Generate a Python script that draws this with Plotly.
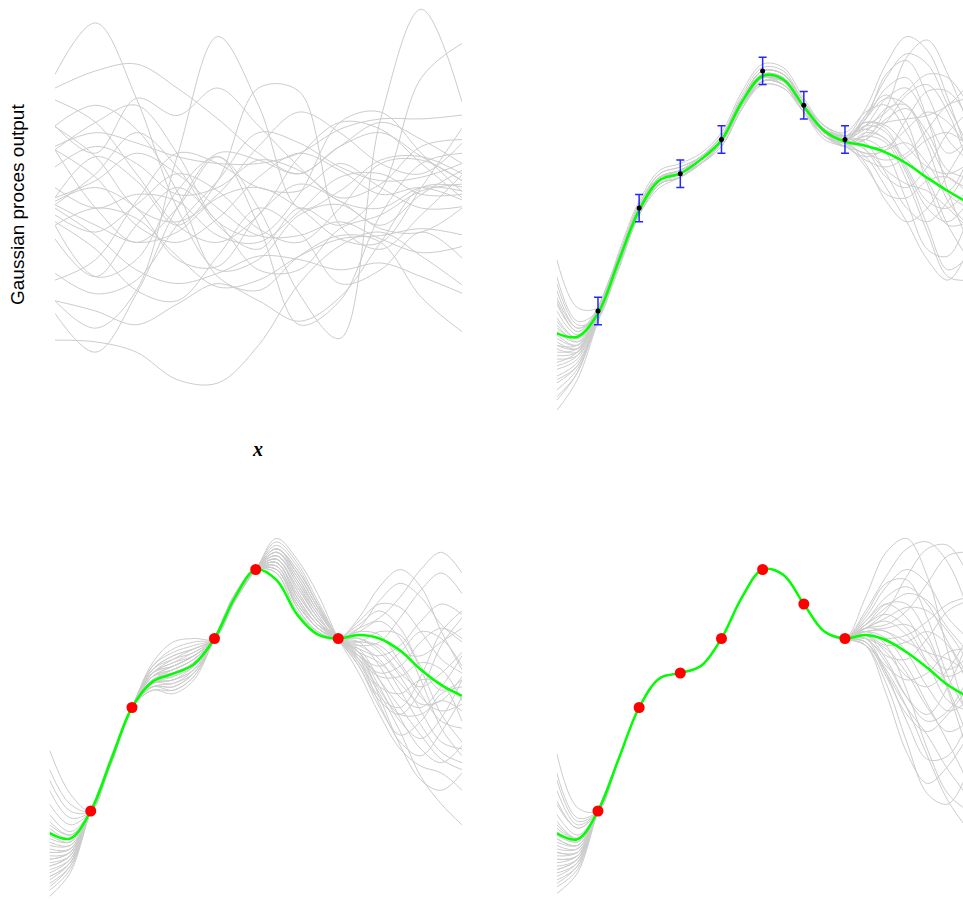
import plotly.graph_objects as go

# ---------------- data ----------------
prior_x = [0, 1, 2, 3, 4, 5, 6, 7, 8, 9, 10]
prior_samples = [
    [6.9, 8.4, 6.2, 3.0, 1.2, 1.5, 2.8, 3.1, 2.4, 2.3, 3.0],
    [-0.85, -0.9, -1.2, -2.0, -2.1, -1.0, 0.8, 1.9, 2.3, 1.6, 0.76],
    [0.3, -0.5, 0.6, 4.5, 8.0, 6.0, 3.0, 3.5, 4.4, 4.5, 4.0],
    [3.3, 4.5, 3.8, 2.5, 3.8, 6.5, 6.4, 2.5, 1.8, 2.8, 3.97],
    [2.5, 1.0, 1.5, 3.5, 4.5, 3.0, 0.5, -0.8, 5.6, 8.8, 6.1],
    [4.7, 3.0, 2.0, 3.0, 4.5, 2.5, -0.4, 0.3, 2.8, 4.3, 4.6],
    [3.1, 4.0, 5.2, 4.2, 2.5, 1.8, 3.0, 2.5, 3.5, 6.8, 7.8],
    [6.5, 7.0, 7.2, 6.5, 5.6, 4.6, 4.0, 4.8, 5.2, 4.5, 3.8],
    [5.4, 4.6, 6.2, 5.7, 6.5, 5.4, 4.2, 3.2, 3.0, 3.6, 3.5],
    [-0.07, -1.2, 0.5, 3.0, 4.6, 4.4, 4.0, 4.8, 5.5, 5.0, 4.3],
    [6.15, 5.5, 4.0, 2.5, 2.0, 2.8, 4.5, 5.5, 5.3, 4.3, 3.3],
    [5.4, 6.0, 5.3, 3.5, 1.0, 0.6, 1.6, 2.2, 2.0, 0.4, -0.6],
    [4.8, 5.2, 4.9, 4.5, 4.3, 4.3, 4.6, 5.3, 5.6, 5.6, 5.71],
    [3.2, 3.6, 3.0, 1.5, 1.3, 2.8, 3.7, 3.2, 2.5, 3.4, 4.1],
    [3.0, 2.2, 1.2, 0.8, 1.1, 1.6, 1.5, 1.2, 1.4, 1.0, 0.52],
    [2.1, 1.0, 2.5, 3.6, 2.6, 1.2, 1.2, 2.4, 2.8, 3.5, 3.7],
    [0.9, 1.5, 3.2, 4.6, 4.3, 3.6, 3.5, 4.3, 3.6, 3.0, 3.04],
    [1.1, 0.5, 0.9, 2.5, 3.8, 5.2, 4.9, 4.2, 3.8, 3.9, 4.3],
    [2.5, 3.0, 2.7, 1.6, 0.7, 0.9, 1.6, 2.1, 2.2, 2.4, 2.22],
    [4.7, 3.9, 2.5, 2.0, 2.7, 3.9, 4.6, 4.1, 3.4, 3.6, 3.24],
    [3.3, 3.8, 4.6, 4.0, 3.0, 2.2, 2.2, 2.6, 2.1, 1.7, 1.88],
    [3.1, 2.5, 2.0, 2.3, 3.3, 3.6, 3.0, 2.1, 2.0, 3.6, 5.33],
    [2.6, 1.8, 0.6, 0.3, 1.6, 3.0, 2.3, 0.8, 1.2, 2.3, 1.54],
    [0.3, 0.0, -0.4, 0.2, 0.8, 0.3, -0.3, 0.4, 2.0, 3.6, 3.62],
    [4.7, 5.5, 6.0, 4.6, 2.6, 2.2, 3.4, 5.5, 5.8, 4.6, 3.48],
    [5.37, 4.5, 3.0, 2.6, 3.4, 4.8, 5.8, 5.2, 4.3, 4.0, 4.89],
    [4.2, 4.8, 4.3, 3.4, 3.6, 4.4, 4.1, 3.3, 3.7, 4.8, 5.0],
    [2.8, 2.3, 3.1, 4.0, 3.5, 2.4, 2.0, 3.0, 4.3, 4.4, 3.8],
    [3.6, 3.0, 3.4, 3.2, 2.2, 2.0, 2.9, 3.9, 4.0, 3.4, 3.4],
]

post_x = [0, 0.5, 1, 1.5, 2, 2.5, 3, 3.5, 4, 4.5, 5, 5.5, 6, 6.5, 7, 7.5, 8, 8.5, 9, 9.5, 10]

obs_x = [1, 2, 3, 4, 5, 6, 7]
obs_y_noisy = [0.0, 3.0, 4.0, 5.0, 7.0, 6.0, 5.0]
obs_err = [0.4, 0.4, 0.4, 0.4, 0.4, 0.4, 0.4]

obs5_x = [1, 2, 4, 5, 7]
obs5_y = [0.0, 3.0, 5.0, 7.0, 5.0]

obs7_x = [1, 2, 3, 4, 5, 6, 7]
obs7_y = [0.0, 3.0, 4.0, 5.0, 7.0, 6.0, 5.0]

mean_noisy = [-0.65, -0.75, -0.07, 1.45, 2.94, 3.82, 4.01, 4.42, 4.98, 6.1, 6.85,
              6.75, 5.96, 5.25, 4.94, 4.82, 4.62, 4.3, 3.88, 3.5, 3.15]
mean_5pts = [-0.64, -0.8, 0.0, 1.5, 3.0, 3.75, 3.98, 4.25, 5.0, 6.2, 7.0,
             6.7, 5.7, 5.12, 5.0, 5.1, 5.0, 4.65, 4.1, 3.65, 3.34]
mean_7pts = [-0.65, -0.82, 0.0, 1.5, 3.0, 3.85, 4.0, 4.2, 5.0, 6.2, 7.0,
             6.85, 6.0, 5.2, 5.0, 5.1, 4.95, 4.6, 4.15, 3.65, 3.3]

noisy_samples = [
    [1.5, 0.1, 0.1, 1.6, 3.1, 4.0, 4.2, 4.5, 5.1, 6.3, 7.1, 7.0, 6.1, 5.4, 5.1, 5.9, 7.2, 8.0, 7.6, 6.2, 4.5],
    [1.0, -0.3, 0.0, 1.4, 2.9, 3.7, 3.9, 4.3, 4.9, 6.0, 6.7, 6.6, 5.9, 5.3, 5.0, 5.7, 6.8, 7.5, 7.2, 6.0, 4.8],
    [0.6, -0.5, -0.1, 1.5, 3.0, 3.9, 4.1, 4.5, 5.0, 6.2, 7.0, 6.9, 6.0, 5.2, 4.9, 5.6, 6.2, 6.0, 4.8, 3.2, 2.5],
    [0.3, -0.6, 0.1, 1.3, 2.8, 3.6, 3.9, 4.4, 5.0, 6.0, 6.6, 6.5, 5.8, 5.1, 4.8, 5.2, 5.0, 4.0, 2.5, 1.2, 1.6],
    [0.0, -0.7, -0.1, 1.7, 3.2, 4.1, 4.3, 4.6, 5.2, 6.4, 7.2, 7.1, 6.2, 5.4, 5.2, 5.8, 6.0, 5.2, 4.0, 3.5, 4.5],
    [-0.2, -0.8, 0.0, 1.4, 2.9, 3.8, 4.0, 4.3, 4.8, 5.9, 6.6, 6.5, 5.8, 5.2, 4.9, 4.5, 3.6, 2.6, 1.5, 0.9, 1.8],
    [-0.4, -0.9, -0.2, 1.3, 2.8, 3.7, 3.9, 4.3, 4.9, 6.0, 6.8, 6.8, 6.0, 5.3, 5.0, 5.3, 5.5, 5.6, 5.7, 6.0, 6.6],
    [-0.5, -0.8, 0.1, 1.6, 3.0, 3.9, 4.1, 4.4, 4.9, 6.0, 6.7, 6.6, 5.8, 5.0, 4.8, 4.6, 4.4, 4.6, 5.3, 6.0, 6.2],
    [-0.7, -1.0, -0.1, 1.5, 3.1, 3.9, 4.0, 4.4, 5.0, 6.2, 6.9, 6.8, 6.0, 5.3, 5.1, 4.9, 4.0, 3.0, 2.6, 3.2, 4.2],
    [-0.8, -1.0, 0.0, 1.4, 2.9, 3.8, 4.1, 4.5, 5.1, 6.2, 7.0, 6.9, 6.1, 5.2, 4.9, 5.0, 5.5, 6.3, 6.6, 5.8, 4.2],
    [-0.9, -1.1, -0.2, 1.3, 2.8, 3.7, 3.9, 4.3, 4.8, 5.9, 6.7, 6.6, 5.9, 5.2, 5.0, 4.3, 3.2, 2.6, 3.0, 4.0, 5.0],
    [-1.0, -1.0, 0.1, 1.6, 3.0, 3.9, 4.1, 4.5, 5.1, 6.2, 6.9, 6.8, 6.0, 5.3, 5.1, 5.5, 5.4, 4.8, 4.2, 4.0, 4.3],
    [-1.1, -1.2, -0.1, 1.5, 3.0, 3.8, 4.0, 4.4, 5.0, 6.1, 6.8, 6.7, 5.9, 5.1, 4.8, 4.4, 4.2, 4.5, 5.0, 5.2, 4.8],
    [-1.2, -1.1, 0.0, 1.5, 2.9, 3.8, 4.0, 4.4, 5.0, 6.2, 7.0, 6.9, 6.1, 5.3, 5.0, 5.6, 6.5, 6.8, 5.6, 3.5, 2.0],
    [-1.4, -1.3, -0.2, 1.3, 2.8, 3.7, 3.9, 4.3, 4.9, 6.0, 6.7, 6.6, 5.9, 5.2, 4.9, 5.1, 4.9, 3.8, 2.3, 1.0, 0.9],
    [-1.5, -1.2, 0.1, 1.6, 3.1, 4.0, 4.2, 4.5, 5.0, 6.1, 6.8, 6.7, 6.0, 5.4, 5.1, 4.7, 3.9, 3.6, 4.2, 5.2, 5.8],
    [-1.7, -1.4, -0.1, 1.5, 2.9, 3.8, 4.0, 4.4, 5.0, 6.1, 6.9, 6.8, 6.0, 5.2, 5.0, 5.4, 5.2, 4.1, 3.0, 2.6, 3.2],
    [-1.9, -1.5, -0.2, 1.4, 2.9, 3.7, 3.9, 4.4, 5.0, 6.2, 7.0, 6.9, 6.0, 5.2, 4.8, 5.2, 5.9, 6.0, 5.0, 3.9, 3.6],
    [-2.1, -1.6, -0.1, 1.4, 3.0, 3.9, 4.1, 4.4, 4.9, 6.0, 6.8, 6.7, 5.9, 5.2, 5.0, 4.8, 4.8, 5.3, 5.8, 5.5, 4.7],
    [-2.3, -1.7, -0.3, 1.2, 2.8, 3.7, 4.0, 4.4, 5.0, 6.1, 6.8, 6.7, 5.9, 5.1, 4.9, 4.2, 3.4, 3.3, 3.8, 3.9, 3.4],
    [-2.6, -1.8, -0.2, 1.3, 2.9, 3.8, 4.0, 4.4, 5.0, 6.1, 6.9, 6.8, 6.0, 5.3, 5.1, 5.3, 5.0, 4.4, 3.8, 2.5, 1.5],
    [-2.9, -2.0, -0.3, 1.3, 2.9, 3.8, 4.0, 4.4, 5.0, 6.1, 6.8, 6.8, 6.0, 5.2, 5.0, 5.7, 6.3, 5.5, 3.7, 2.5, 2.6],
    [0.8, -0.4, -0.2, 1.4, 3.0, 3.9, 4.1, 4.4, 5.0, 6.1, 6.8, 6.6, 5.8, 5.1, 4.9, 5.0, 5.9, 7.4, 7.9, 6.9, 5.4],
    [-1.6, -1.3, 0.0, 1.5, 3.0, 3.8, 4.0, 4.3, 4.8, 5.9, 6.7, 6.7, 6.0, 5.3, 5.0, 5.4, 6.2, 6.5, 5.6, 4.6, 5.0],
    [0.4, -0.5, 0.0, 1.5, 3.0, 3.9, 4.1, 4.5, 5.1, 6.2, 6.9, 6.7, 5.9, 5.2, 5.0, 5.5, 5.3, 4.2, 3.2, 3.0, 3.6],
    [-0.3, -0.8, -0.1, 1.4, 2.9, 3.8, 4.0, 4.3, 4.9, 6.1, 6.9, 6.8, 6.0, 5.2, 4.9, 4.6, 4.7, 5.6, 6.4, 6.4, 5.6],
    [-1.3, -1.2, 0.0, 1.5, 3.0, 3.8, 4.0, 4.4, 5.0, 6.1, 6.8, 6.7, 5.9, 5.2, 5.0, 5.1, 5.6, 5.9, 5.2, 4.1, 3.9],
    [-0.6, -0.9, 0.1, 1.6, 3.1, 3.9, 4.1, 4.5, 5.0, 6.1, 6.8, 6.7, 5.9, 5.3, 5.0, 4.7, 4.1, 3.7, 3.5, 3.0, 2.4],
    [-2.0, -1.6, -0.2, 1.4, 2.9, 3.8, 4.0, 4.4, 5.0, 6.1, 6.9, 6.8, 6.0, 5.2, 4.9, 5.0, 4.6, 3.2, 1.8, 1.6, 2.8],
    [0.2, -0.6, 0.0, 1.5, 3.0, 3.9, 4.0, 4.4, 4.9, 6.0, 6.7, 6.7, 5.9, 5.2, 5.0, 5.6, 6.9, 7.3, 6.3, 5.0, 4.4],
    [-1.0, -1.1, -0.1, 1.4, 2.9, 3.8, 4.0, 4.4, 5.0, 6.1, 6.8, 6.7, 5.9, 5.1, 4.8, 4.5, 4.7, 4.9, 4.3, 3.4, 3.0],
    [-2.5, -1.8, -0.1, 1.4, 2.9, 3.8, 4.0, 4.4, 5.0, 6.2, 7.0, 6.9, 6.1, 5.3, 5.1, 5.4, 5.8, 6.4, 6.9, 6.8, 6.0],
]

samples_5pts = [
    [1.77, 0.5, 0, 1.6, 3, 4.3, 4.9, 5.0, 5, 6.1, 7, 7.8, 7.2, 6.1, 5, 4.2, 3.2, 2.8, 3.5, 4.8, 5.6],
    [1.2, 0.2, 0, 1.5, 3, 3.6, 3.5, 3.9, 5, 6.3, 7, 7.0, 5.9, 5.2, 5, 5.6, 6.5, 7.0, 6.5, 5.2, 4.1],
    [0.6, -0.2, 0, 1.5, 3, 4.1, 4.5, 4.7, 5, 6.2, 7, 7.5, 6.8, 5.8, 5, 4.6, 3.8, 3.0, 2.2, 1.5, 1.2],
    [0.2, -0.4, 0, 1.4, 3, 3.5, 3.4, 3.8, 5, 6.3, 7, 6.9, 5.7, 5.1, 5, 5.4, 5.8, 5.3, 4.2, 3.5, 3.8],
    [-0.1, -0.6, 0, 1.6, 3, 4.0, 4.3, 4.6, 5, 6.1, 7, 7.6, 7.0, 6.0, 5, 4.8, 4.9, 5.6, 6.4, 6.9, 6.3],
    [-0.3, -0.7, 0, 1.5, 3, 3.8, 4.0, 4.3, 5, 6.2, 7, 7.2, 6.3, 5.5, 5, 4.4, 3.1, 2.0, 1.6, 2.3, 3.3],
    [-0.5, -0.8, 0, 1.5, 3, 3.9, 4.1, 4.4, 5, 6.2, 7, 7.4, 6.6, 5.7, 5, 5.2, 5.5, 5.0, 3.8, 2.4, 1.6],
    [-0.6, -0.8, 0, 1.4, 3, 3.6, 3.7, 4.0, 5, 6.3, 7, 7.1, 6.0, 5.3, 5, 4.9, 4.2, 3.3, 3.0, 3.6, 4.5],
    [-0.8, -0.9, 0, 1.5, 3, 4.2, 4.6, 4.8, 5, 6.1, 7, 7.7, 7.1, 6.0, 5, 4.3, 3.4, 2.3, 1.0, 0.2, -0.4],
    [-0.9, -1.0, 0, 1.5, 3, 3.7, 3.8, 4.1, 5, 6.2, 7, 7.3, 6.4, 5.5, 5, 5.5, 6.0, 5.9, 5.2, 4.4, 4.0],
    [-1.0, -1.0, 0, 1.6, 3, 4.0, 4.2, 4.5, 5, 6.2, 7, 7.5, 6.9, 5.9, 5, 4.7, 4.5, 4.8, 5.5, 6.0, 5.7],
    [-1.1, -1.1, 0, 1.5, 3, 3.8, 3.9, 4.2, 5, 6.2, 7, 7.0, 6.0, 5.3, 5, 5.0, 4.6, 3.9, 2.9, 2.0, 1.8],
    [-1.2, -1.1, 0, 1.5, 3, 3.9, 4.2, 4.5, 5, 6.2, 7, 7.6, 6.9, 5.9, 5, 4.5, 4.0, 4.2, 4.9, 5.3, 5.0],
    [-1.3, -1.2, 0, 1.4, 3, 3.5, 3.5, 3.9, 5, 6.3, 7, 7.2, 6.2, 5.4, 5, 4.9, 4.8, 4.2, 3.3, 2.9, 3.1],
    [-1.4, -1.2, 0, 1.5, 3, 4.1, 4.4, 4.6, 5, 6.2, 7, 7.3, 6.5, 5.6, 5, 4.6, 3.6, 2.6, 2.1, 2.7, 3.8],
    [-1.5, -1.3, 0, 1.5, 3, 3.7, 3.9, 4.3, 5, 6.2, 7, 7.9, 7.3, 6.3, 5, 4.0, 2.8, 1.8, 1.3, 1.1, 0.6],
    [-1.6, -1.3, 0, 1.5, 3, 4.0, 4.3, 4.5, 5, 6.1, 7, 7.1, 6.1, 5.3, 5, 5.3, 5.6, 6.2, 7.0, 7.5, 6.9],
    [-1.7, -1.4, 0, 1.5, 3, 3.8, 4.0, 4.3, 5, 6.2, 7, 7.4, 6.7, 5.8, 5, 4.6, 4.3, 3.7, 3.1, 3.2, 3.9],
    [-1.8, -1.4, 0, 1.4, 3, 3.6, 3.6, 4.0, 5, 6.3, 7, 6.9, 5.8, 5.2, 5, 5.1, 5.0, 4.6, 4.5, 4.9, 5.3],
    [-1.9, -1.5, 0, 1.5, 3, 4.2, 4.7, 4.9, 5, 6.1, 7, 7.6, 7.0, 6.0, 5, 4.2, 3.0, 2.2, 2.6, 3.4, 3.6],
    [-2.0, -1.5, 0, 1.5, 3, 3.9, 4.1, 4.4, 5, 6.2, 7, 7.2, 6.2, 5.4, 5, 4.8, 4.4, 3.5, 2.5, 1.7, 1.4],
    [-2.1, -1.6, 0, 1.5, 3, 3.7, 3.8, 4.2, 5, 6.2, 7, 7.5, 6.8, 5.8, 5, 4.4, 3.9, 3.9, 4.3, 4.1, 3.2],
    [-2.3, -1.7, 0, 1.4, 3, 4.0, 4.2, 4.5, 5, 6.2, 7, 7.0, 5.9, 5.2, 5, 5.2, 5.1, 4.3, 3.4, 2.6, 2.4],
    [-2.48, -1.8, 0, 1.4, 3, 3.8, 4.0, 4.3, 5, 6.2, 7, 7.3, 6.5, 5.6, 5, 4.5, 3.5, 2.8, 2.8, 3.2, 2.9],
    [-0.4, -0.7, 0, 1.5, 3, 3.9, 4.2, 4.5, 5, 6.2, 7, 7.4, 6.6, 5.6, 5, 4.5, 4.2, 4.6, 5.2, 5.0, 4.2],
    [-1.2, -1.1, 0, 1.5, 3, 3.7, 3.7, 4.1, 5, 6.2, 7, 7.2, 6.3, 5.5, 5, 4.7, 3.8, 2.7, 1.8, 1.4, 1.9],
    [-0.7, -0.9, 0, 1.5, 3, 4.0, 4.4, 4.7, 5, 6.1, 7, 7.5, 6.7, 5.7, 5, 5.3, 6.1, 6.6, 6.2, 5.4, 4.9],
    [-1.6, -1.3, 0, 1.5, 3, 3.9, 4.0, 4.3, 5, 6.2, 7, 7.0, 6.0, 5.3, 5, 4.6, 3.3, 1.9, 0.9, 0.6, 1.1],
    [-2.2, -1.6, 0, 1.5, 3, 3.8, 4.1, 4.4, 5, 6.2, 7, 7.3, 6.4, 5.5, 5, 5.0, 4.7, 4.0, 3.6, 4.0, 4.6],
    [0.9, 0.0, 0, 1.5, 3, 3.6, 3.6, 4.0, 5, 6.2, 7, 7.1, 6.1, 5.4, 5, 4.4, 3.6, 3.4, 3.8, 3.7, 2.6],
    [-1.4, -1.2, 0, 1.5, 3, 4.1, 4.5, 4.7, 5, 6.1, 7, 7.6, 6.9, 5.9, 5, 4.9, 5.2, 5.1, 4.1, 2.8, 2.0],
    [-1.9, -1.5, 0, 1.5, 3, 3.7, 3.8, 4.1, 5, 6.2, 7, 7.2, 6.2, 5.4, 5, 4.3, 3.3, 3.0, 3.9, 5.2, 5.8],
]

samples_7pts = [
    [1.67, 0.1, 0, 1.52, 3, 3.87, 4, 4.22, 5, 6.22, 7, 6.88, 6, 5.22, 5, 6.2, 7.5, 7.9, 6.8, 4.6, 2.6],
    [1.1, -0.2, 0, 1.48, 3, 3.83, 4, 4.18, 5, 6.18, 7, 6.82, 6, 5.18, 5, 5.8, 6.8, 7.6, 7.8, 7.2, 5.8],
    [0.6, -0.4, 0, 1.5, 3, 3.86, 4, 4.21, 5, 6.21, 7, 6.86, 6, 5.21, 5, 5.5, 6.2, 6.5, 6.0, 4.9, 3.9],
    [0.2, -0.5, 0, 1.51, 3, 3.84, 4, 4.19, 5, 6.19, 7, 6.84, 6, 5.19, 5, 5.4, 5.7, 5.3, 4.3, 3.2, 2.9],
    [-0.1, -0.7, 0, 1.49, 3, 3.85, 4, 4.2, 5, 6.2, 7, 6.85, 6, 5.2, 5, 5.3, 5.4, 5.8, 6.6, 7.4, 7.5],
    [-0.3, -0.8, 0, 1.5, 3, 3.86, 4, 4.2, 5, 6.2, 7, 6.86, 6, 5.2, 5, 5.2, 4.8, 3.5, 1.8, 0.5, 0.0],
    [-0.5, -0.8, 0, 1.5, 3, 3.85, 4, 4.21, 5, 6.2, 7, 6.85, 6, 5.21, 5, 5.3, 5.6, 5.9, 5.8, 5.2, 4.3],
    [-0.6, -0.9, 0, 1.5, 3, 3.84, 4, 4.2, 5, 6.21, 7, 6.84, 6, 5.2, 5, 5.1, 4.6, 3.9, 3.6, 4.1, 5.1],
    [-0.7, -0.9, 0, 1.51, 3, 3.85, 4, 4.19, 5, 6.2, 7, 6.85, 6, 5.19, 5, 5.0, 4.0, 2.6, 1.5, 1.6, 2.6],
    [-0.8, -1.0, 0, 1.5, 3, 3.86, 4, 4.2, 5, 6.2, 7, 6.86, 6, 5.2, 5, 5.4, 6.0, 6.0, 5.1, 3.6, 2.1],
    [-0.9, -1.0, 0, 1.49, 3, 3.85, 4, 4.2, 5, 6.19, 7, 6.85, 6, 5.2, 5, 5.1, 5.0, 5.1, 5.5, 6.0, 6.2],
    [-1.0, -1.1, 0, 1.5, 3, 3.84, 4, 4.21, 5, 6.2, 7, 6.84, 6, 5.21, 5, 4.8, 3.7, 2.0, 0.5, 0.2, 1.2],
    [-1.1, -1.1, 0, 1.5, 3, 3.85, 4, 4.2, 5, 6.2, 7, 6.85, 6, 5.2, 5, 5.2, 5.2, 4.6, 3.6, 2.9, 3.2],
    [-1.2, -1.2, 0, 1.5, 3, 3.86, 4, 4.19, 5, 6.21, 7, 6.86, 6, 5.19, 5, 5.0, 4.5, 4.4, 5.0, 5.8, 6.1],
    [-1.3, -1.2, 0, 1.51, 3, 3.85, 4, 4.2, 5, 6.2, 7, 6.85, 6, 5.2, 5, 4.9, 3.9, 2.8, 2.3, 2.8, 3.6],
    [-1.4, -1.3, 0, 1.5, 3, 3.84, 4, 4.2, 5, 6.2, 7, 6.84, 6, 5.2, 5, 5.3, 5.5, 5.1, 4.3, 3.9, 4.2],
    [-1.5, -1.3, 0, 1.49, 3, 3.85, 4, 4.21, 5, 6.19, 7, 6.85, 6, 5.21, 5, 5.2, 5.0, 4.2, 3.1, 2.0, 0.8],
    [-1.6, -1.4, 0, 1.5, 3, 3.86, 4, 4.2, 5, 6.2, 7, 6.86, 6, 5.2, 5, 5.4, 5.9, 6.3, 6.1, 5.3, 4.6],
    [-1.7, -1.4, 0, 1.5, 3, 3.85, 4, 4.19, 5, 6.2, 7, 6.85, 6, 5.19, 5, 4.9, 4.2, 3.8, 4.0, 4.6, 4.7],
    [-1.8, -1.5, 0, 1.5, 3, 3.84, 4, 4.2, 5, 6.21, 7, 6.84, 6, 5.2, 5, 5.1, 4.8, 4.9, 5.2, 4.8, 3.6],
    [-1.9, -1.5, 0, 1.51, 3, 3.85, 4, 4.2, 5, 6.2, 7, 6.85, 6, 5.2, 5, 5.0, 4.3, 3.3, 2.8, 3.6, 5.0],
    [-2.0, -1.6, 0, 1.5, 3, 3.86, 4, 4.21, 5, 6.2, 7, 6.86, 6, 5.21, 5, 5.2, 5.3, 5.4, 4.9, 3.5, 1.6],
    [-2.2, -1.7, 0, 1.49, 3, 3.85, 4, 4.2, 5, 6.19, 7, 6.85, 6, 5.2, 5, 5.6, 6.5, 7.0, 6.6, 5.6, 5.0],
    [-2.39, -1.8, 0, 1.5, 3, 3.84, 4, 4.2, 5, 6.2, 7, 6.84, 6, 5.2, 5, 4.8, 4.1, 3.0, 1.6, 0.3, -0.55],
    [0.9, -0.3, 0, 1.5, 3, 3.85, 4, 4.2, 5, 6.2, 7, 6.85, 6, 5.2, 5, 5.3, 5.8, 6.8, 7.6, 7.7, 6.8],
    [-0.4, -0.8, 0, 1.5, 3, 3.85, 4, 4.2, 5, 6.2, 7, 6.85, 6, 5.2, 5, 5.1, 4.4, 3.3, 2.6, 2.9, 3.9],
    [-1.2, -1.2, 0, 1.5, 3, 3.85, 4, 4.2, 5, 6.2, 7, 6.85, 6, 5.2, 5, 5.5, 6.0, 5.6, 4.6, 4.1, 4.5],
    [-0.8, -1.0, 0, 1.5, 3, 3.85, 4, 4.2, 5, 6.2, 7, 6.85, 6, 5.2, 5, 4.9, 4.0, 3.0, 2.2, 1.2, 0.4],
    [-1.7, -1.4, 0, 1.5, 3, 3.85, 4, 4.2, 5, 6.2, 7, 6.85, 6, 5.2, 5, 5.3, 5.2, 4.9, 4.6, 4.4, 4.0],
    [-2.1, -1.6, 0, 1.5, 3, 3.85, 4, 4.2, 5, 6.2, 7, 6.85, 6, 5.2, 5, 5.0, 4.7, 4.0, 3.0, 2.3, 2.6],
    [0.3, -0.5, 0, 1.5, 3, 3.85, 4, 4.2, 5, 6.2, 7, 6.85, 6, 5.2, 5, 5.7, 6.6, 6.7, 5.6, 3.9, 2.8],
    [-1.4, -1.3, 0, 1.5, 3, 3.85, 4, 4.2, 5, 6.2, 7, 6.85, 6, 5.2, 5, 4.8, 3.4, 1.7, 0.8, 1.3, 2.2],
]

# ---------------- figure ----------------
W, H = 963, 899
GRAY = "rgb(204,204,204)"
GREEN = "#00ff00"

fig = go.Figure()

def add_samples(xs, rows, xa, ya):
    for r in rows:
        fig.add_trace(go.Scatter(x=xs, y=r, mode="lines", xaxis=xa, yaxis=ya,
                                 line=dict(color=GRAY, width=1, shape="spline", smoothing=1.0),
                                 hoverinfo="skip", showlegend=False))

def add_mean(xs, ys, xa, ya):
    fig.add_trace(go.Scatter(x=xs, y=ys, mode="lines", xaxis=xa, yaxis=ya,
                             line=dict(color=GREEN, width=2.5, shape="spline", smoothing=1.0),
                             showlegend=False))

# panel 1: prior
add_samples(prior_x, prior_samples, "x", "y")

# panel 2: noisy observations
add_samples(post_x, noisy_samples, "x2", "y2")
add_mean(post_x, mean_noisy, "x2", "y2")
fig.add_trace(go.Scatter(x=obs_x, y=obs_y_noisy, mode="markers", xaxis="x2", yaxis="y2",
                         marker=dict(color="black", size=5),
                         error_y=dict(type="data", array=obs_err, color="rgba(0,0,255,0.85)",
                                      thickness=1.5, width=4),
                         showlegend=False))

# panel 3: 5 noiseless observations
add_samples(post_x, samples_5pts, "x3", "y3")
add_mean(post_x, mean_5pts, "x3", "y3")
fig.add_trace(go.Scatter(x=obs5_x, y=obs5_y, mode="markers", xaxis="x3", yaxis="y3",
                         marker=dict(color="red", size=11), showlegend=False))

# panel 4: 7 noiseless observations
add_samples(post_x, samples_7pts, "x4", "y4")
add_mean(post_x, mean_7pts, "x4", "y4")
fig.add_trace(go.Scatter(x=obs7_x, y=obs7_y, mode="markers", xaxis="x4", yaxis="y4",
                         marker=dict(color="red", size=11), showlegend=False))

hid = dict(visible=False, showgrid=False, zeroline=False, fixedrange=True)
top_dom = [(H - 410) / H, (H - 5) / H]
bot_dom = [0.0, (H - 505) / H]
top_rng = [-2.886, 8.921]
bot_rng = [-2.551, 8.870]

fig.update_layout(
    width=W, height=H, autosize=False,
    margin=dict(l=0, r=0, t=0, b=0),
    paper_bgcolor="white", plot_bgcolor="white",
    xaxis=dict(domain=[55 / W, 462 / W], range=[0, 10], **hid),
    yaxis=dict(domain=top_dom, range=top_rng, **hid),
    xaxis2=dict(domain=[556.8 / W, 1.0], range=[0, 9.867], anchor="y2", **hid),
    yaxis2=dict(domain=top_dom, range=top_rng, anchor="x2", **hid),
    xaxis3=dict(domain=[49.5 / W, 462 / W], range=[0, 10], anchor="y3", **hid),
    yaxis3=dict(domain=bot_dom, range=bot_rng, anchor="x3", **hid),
    xaxis4=dict(domain=[556.8 / W, 1.0], range=[0, 9.867], anchor="y4", **hid),
    yaxis4=dict(domain=bot_dom, range=bot_rng, anchor="x4", **hid),
    annotations=[
        dict(text="Gaussian proces output", x=17 / W, y=1 - 205 / H, xref="paper", yref="paper",
             xanchor="center", yanchor="middle", textangle=-90, showarrow=False,
             font=dict(family="Liberation Sans, Arial, sans-serif", size=19, color="black")),
        dict(text="<b><i>x</i></b>", x=257 / W, y=1 - 449 / H, xref="paper", yref="paper",
             xanchor="center", yanchor="middle", showarrow=False,
             font=dict(family="Liberation Serif, Times New Roman, serif", size=20, color="black")),
    ],
)

fig.write_html("out.html", config={"displayModeBar": False, "staticPlot": True},
               post_script="document.body.style.margin='0px';document.body.style.overflow='hidden';")
